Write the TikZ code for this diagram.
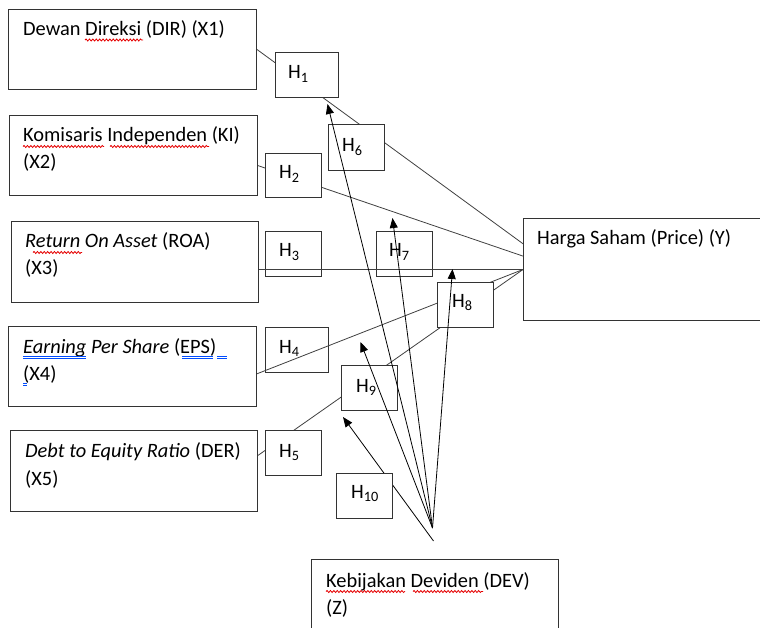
\documentclass[tikz,border=0pt]{standalone}
\usepackage{fontspec}
\setmainfont{Carlito}
\usetikzlibrary{arrows.meta,calc,decorations.pathmorphing}
\pgfdeclarelayer{lo}\pgfdeclarelayer{mid}\pgfdeclarelayer{top}
\pgfsetlayers{lo,mid,main,top}
\newcommand\tf{\fontsize{20.4}{28}\selectfont}
\begin{document}
\begin{tikzpicture}[x=1pt,y=-1pt,
  bigbox/.style={draw=black!80,line width=1pt,inner sep=0pt,anchor=north west},
  hbox/.style={draw=black!80,line width=1pt,inner sep=0pt,anchor=north west,fill=white,minimum width=56pt,minimum height=45pt},
  txt/.style={inner sep=0pt,anchor=base west,font=\tf},
  link/.style={draw=black!75,line width=0.8pt},
  arr/.style={draw=black,line width=0.8pt,-{Triangle[length=10pt,width=8pt]}},
  spellmark/.style={draw=red!90!black,line width=0.8pt,decorate,decoration={snake,amplitude=1pt,segment length=3.4pt}},
  grammark/.style={draw=blue!70!cyan,line width=0.8pt}]
\useasboundingbox (0,0) rectangle (760,628);
% big boxes
\node[bigbox,minimum width=248pt,minimum height=80pt] (X1) at (8,9) {};
\node[bigbox,minimum width=248pt,minimum height=80pt] (X2) at (9,115) {};
\node[bigbox,minimum width=247pt,minimum height=81pt] (X3) at (11,221) {};
\node[bigbox,minimum width=248pt,minimum height=80pt] (X4) at (8,326) {};
\node[bigbox,minimum width=247pt,minimum height=81pt] (X5) at (10,430) {};
\node[bigbox,minimum width=260pt,minimum height=102pt] (Y) at (523,218) {};
\node[bigbox,minimum width=247pt,minimum height=90pt] (Z) at (311,559) {};
% texts
\node[txt] (X1a) at (23,35.5) {Dewan Direksi (DIR) (X1)};
\node[txt] (X2a) at (23,142) {Komisaris Independen (KI)};
\node[txt] (X2b) at (23,169) {(X2)};
\node[txt] (X3a) at (25,248) {\textit{Return On Asset} (ROA)};
\node[txt] (X3b) at (25,275) {(X3)};
\node[txt] (X4a) at (23,353) {\textit{Earning Per Share} (EPS)};
\node[txt] (X4b) at (23,380) {(X4)};
\node[txt] (X5a) at (25,457) {\textit{Debt to Equity Ratio} (DER)};
\node[txt] (X5b) at (25,485) {(X5)};
\node[txt] (Yt) at (537,245) {Harga Saham (Price) (Y)};
\node[txt] (Za) at (326,587) {Kebijakan Deviden (DEV)};
\node[txt] (Zb) at (326,614) {(Z)};
% spelling marks
\draw[spellmark] ($(X1a.base west)+(62,4.5)$) -- ++(58,0);
\draw[spellmark] ($(X2a.base west)+(0,4.5)$) -- ++(81,0);
\draw[spellmark] ($(X2a.base west)+(87,4.5)$) -- ++(99,0);
\draw[spellmark] ($(X3a.base west)+(8,4.5)$) -- ++(49,0);
\draw[spellmark] ($(Za.base west)+(0,4.5)$) -- ++(79,0);
\draw[spellmark] ($(Za.base west)+(87,4.5)$) -- ++(70,0);
\foreach \dy in {3.5,5.5}{
  \draw[grammark] ($(X4a.base west)+(0,\dy)$) -- ++(63,0);
  \draw[grammark] ($(X4a.base west)+(159,\dy)$) -- ++(31,0);
  \draw[grammark] ($(X4a.base west)+(194,\dy)$) -- ++(10,0);
  \draw[grammark] ($(X4b.base west)+(0,\dy)$) -- ++(4,0);
}
% H boxes under the lines
\begin{pgfonlayer}{lo}
\node[hbox] (H3) at (265,231) {};
\node[hbox] (H7) at (376,231) {};
\node[hbox,minimum width=63pt] (H4) at (265,327) {};
\node[txt] (H3t) at ($(H3.north west)+(14,26)$) {H\textsubscript{3}};
\node[txt] (H7t) at ($(H7.north west)+(13,26)$) {H\textsubscript{7}};
\node[txt] (H4t) at ($(H4.north west)+(14,26)$) {H\textsubscript{4}};
\end{pgfonlayer}
% opaque H boxes
\node[hbox,minimum width=63pt] (H1) at (275,52) {};
\node[hbox,minimum height=44pt] (H2) at (265,153) {};
\node[hbox,minimum height=46pt] (H6) at (328,124) {};
\node[hbox] (H8) at (437,282) {};
\node[hbox] (H9) at (341,365) {};
\node[hbox] (H5) at (265,430) {};
\node[hbox] (H10) at (336,473) {};
\node[txt] (H1t) at ($(H1.north west)+(13,27)$) {H\textsubscript{1}};
\node[txt] (H2t) at ($(H2.north west)+(14,26)$) {H\textsubscript{2}};
\node[txt] (H6t) at ($(H6.north west)+(14,28)$) {H\textsubscript{6}};
\node[txt] (H8t) at ($(H8.north west)+(15,25)$) {H\textsubscript{8}};
\node[txt] (H9t) at ($(H9.north west)+(15,27)$) {H\textsubscript{9}};
\node[txt] (H5t) at ($(H5.north west)+(14,27)$) {H\textsubscript{5}};
\node[txt] (H10t) at ($(H10.north west)+(15,25)$) {H\textsubscript{10}};
% start points of the arrows from Z
\coordinate (za) at ($(Z.north)+(-2.5,-31)$);
\coordinate (zb) at ($(Z.north)+(-1.5,-18)$);
% lines to Y
\begin{pgfonlayer}{mid}
\draw[link] (X1.east) -- ($(Y.north west)!0.25!(Y.south west)$);
\draw[link] ($(X2.north east)!0.625!(X2.south east)$) -- ($(Y.north west)!0.37!(Y.south west)$);
\draw[link] (Y.west -| X3.east) -- (Y.west);
\draw[link] ($(X4.north east)!0.59!(X4.south east)$) -- (Y.west);
\draw[link] ($(X5.north east)!0.31!(X5.south east)$) -- (Y.west);
\draw[arr] (zb) -- ($(H9.south west)+(2,6)$);
\end{pgfonlayer}
% arrows on top
\begin{pgfonlayer}{top}
\draw[arr] (za) -- ($(H1.south)+(20.5,6)$);
\draw[arr] (za) -- ($(H7.north)+(-12,-13)$);
\draw[arr] (za) -- ($(H8.north)+(-13,-13)$);
\draw[arr] (za) -- ($(H9.north)+(-9,-23)$);
\end{pgfonlayer}
\end{tikzpicture}
\end{document}
